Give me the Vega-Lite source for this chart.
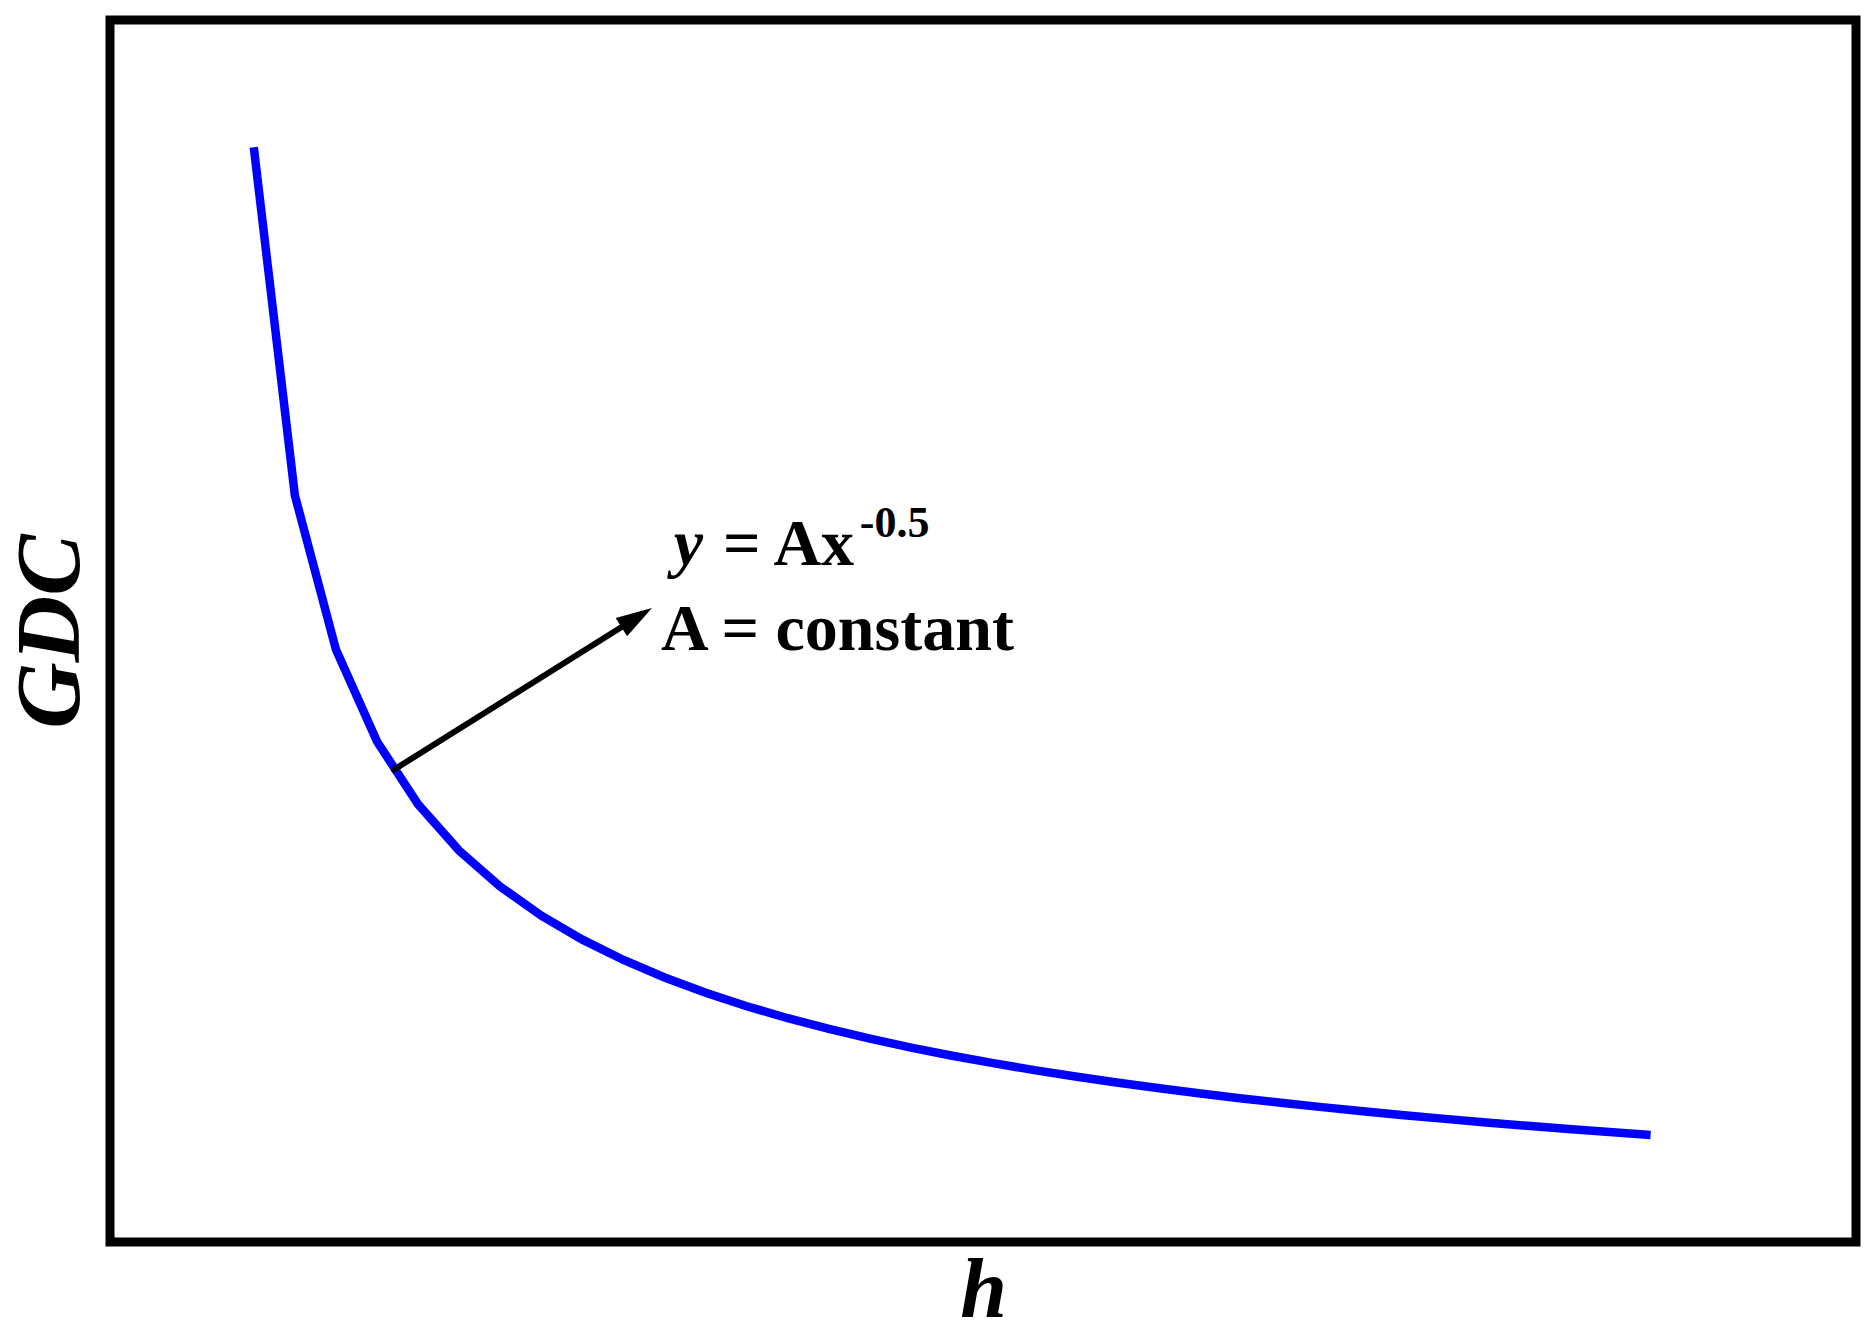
{
  "$schema": "https://vega.github.io/schema/vega-lite/v6.json",
  "autosize": {"type": "none"},
  "padding": {"left": 110, "top": 20, "right": 20, "bottom": 92},
  "width": 1746,
  "height": 1222,
  "background": "white",
  "config": {
    "view": {"stroke": "black", "strokeWidth": 9, "fill": "white"},
    "font": "Liberation Serif"
  },
  "datasets": {
    "curve": [
      {"h": 1, "gdc": 1.0}, {"h": 2, "gdc": 0.70711}, {"h": 3, "gdc": 0.57735}, {"h": 4, "gdc": 0.5},
      {"h": 5, "gdc": 0.44721}, {"h": 6, "gdc": 0.40825}, {"h": 7, "gdc": 0.37796}, {"h": 8, "gdc": 0.35355},
      {"h": 9, "gdc": 0.33333}, {"h": 10, "gdc": 0.31623}, {"h": 11, "gdc": 0.30151}, {"h": 12, "gdc": 0.28868},
      {"h": 13, "gdc": 0.27735}, {"h": 14, "gdc": 0.26726}, {"h": 15, "gdc": 0.2582}, {"h": 16, "gdc": 0.25},
      {"h": 17, "gdc": 0.24254}, {"h": 18, "gdc": 0.2357}, {"h": 19, "gdc": 0.22942}, {"h": 20, "gdc": 0.22361},
      {"h": 21, "gdc": 0.21822}, {"h": 22, "gdc": 0.2132}, {"h": 23, "gdc": 0.20851}, {"h": 24, "gdc": 0.20412},
      {"h": 25, "gdc": 0.2}, {"h": 26, "gdc": 0.19612}, {"h": 27, "gdc": 0.19245}, {"h": 28, "gdc": 0.18898},
      {"h": 29, "gdc": 0.1857}, {"h": 30, "gdc": 0.18257}, {"h": 31, "gdc": 0.17961}, {"h": 32, "gdc": 0.17678},
      {"h": 33, "gdc": 0.17408}, {"h": 34, "gdc": 0.1715}, {"h": 35, "gdc": 0.16903}
    ],
    "arrow": [
      {"h": 4.41, "gdc": 0.4763, "o": 0},
      {"h": 10.09, "gdc": 0.5993, "o": 1}
    ],
    "head": [{"h": 10.32, "gdc": 0.6043}]
  },
  "encoding": {
    "x": {
      "field": "h", "type": "quantitative",
      "scale": {"domain": [-2.5, 40], "nice": false, "zero": false},
      "axis": {
        "title": "h", "domain": false, "ticks": false, "labels": false, "grid": false,
        "titleFont": "Liberation Serif", "titleFontSize": 84, "titleFontStyle": "italic",
        "titleFontWeight": "bold", "titleColor": "black",
        "titleBaseline": "alphabetic", "titlePadding": 74
      }
    },
    "y": {
      "field": "gdc", "type": "quantitative",
      "scale": {"domain": [0.079, 1.107], "nice": false, "zero": false},
      "axis": {
        "title": "GDC", "domain": false, "ticks": false, "labels": false, "grid": false,
        "titleFont": "Liberation Serif", "titleFontSize": 92, "titleFontStyle": "italic",
        "titleFontWeight": "bold", "titleColor": "black",
        "titleBaseline": "alphabetic", "titlePadding": 32
      }
    }
  },
  "layer": [
    {
      "data": {"name": "curve"},
      "mark": {"type": "line", "color": "#0000FF", "strokeWidth": 8.5, "strokeCap": "butt", "strokeJoin": "miter"}
    },
    {
      "data": {"name": "arrow"},
      "mark": {"type": "line", "color": "black", "strokeWidth": 6, "strokeCap": "round"},
      "encoding": {"order": {"field": "o", "type": "quantitative"}}
    },
    {
      "data": {"name": "head"},
      "mark": {"type": "point", "shape": "M0,-1L-0.6,1L0.6,1Z", "filled": true, "color": "black", "opacity": 1, "size": 1300, "angle": 58, "strokeWidth": 0}
    },
    {
      "data": {"values": [{"h": 11.22, "gdc": 0.6489, "label": "y"}]},
      "mark": {"type": "text", "align": "left", "baseline": "alphabetic", "font": "Liberation Serif", "fontSize": 66, "fontStyle": "italic", "fontWeight": "bold", "color": "black"},
      "encoding": {"text": {"field": "label"}}
    },
    {
      "data": {"values": [{"h": 12.42, "gdc": 0.6489, "label": "= Ax"}, {"h": 10.91, "gdc": 0.5774, "label": "A = constant"}]},
      "mark": {"type": "text", "align": "left", "baseline": "alphabetic", "font": "Liberation Serif", "fontSize": 66, "fontWeight": "bold", "color": "black"},
      "encoding": {"text": {"field": "label"}}
    },
    {
      "data": {"values": [{"h": 15.75, "gdc": 0.6717, "label": "-0.5"}]},
      "mark": {"type": "text", "align": "left", "baseline": "alphabetic", "font": "Liberation Serif", "fontSize": 44, "fontWeight": "bold", "color": "black"},
      "encoding": {"text": {"field": "label"}}
    }
  ]
}
